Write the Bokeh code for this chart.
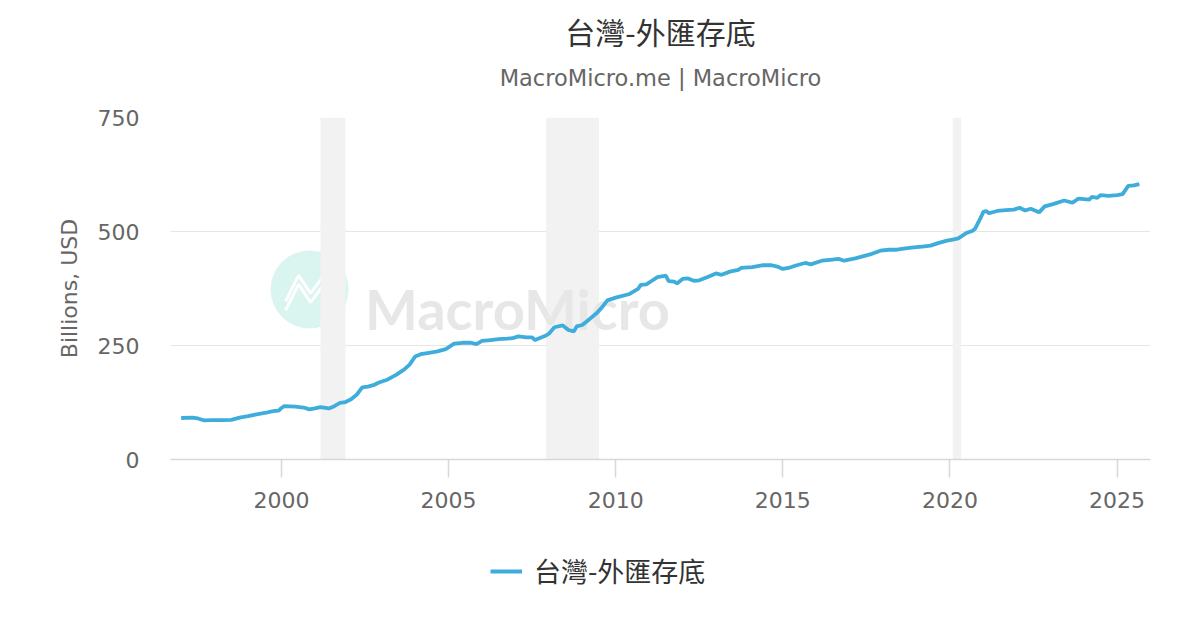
from bokeh.plotting import figure
from bokeh.models import (FixedTicker, BoxAnnotation, Legend, LegendItem,
                          Range1d, ColumnDataSource, Label)
from bokeh.layouts import column
from bokeh.core.properties import value
from bokeh.embed import file_html
from bokeh.resources import INLINE

# ---- data ----
dates = [
    "1997-01", "1997-05", "1997-07", "1997-09", "1997-12", "1998-04", "1998-07", "1998-10",
    "1999-01", "1999-04", "1999-07", "1999-10", "1999-12", "2000-01", "2000-02", "2000-06",
    "2000-09", "2000-11", "2001-01", "2001-03", "2001-06", "2001-08", "2001-10", "2001-12",
    "2002-02", "2002-04", "2002-06", "2002-08", "2002-10", "2002-12", "2003-03", "2003-06",
    "2003-09", "2003-11", "2004-01", "2004-03", "2004-06", "2004-09", "2004-12", "2005-03",
    "2005-06", "2005-09", "2005-11", "2006-01", "2006-04", "2006-07", "2006-10", "2006-12",
    "2007-02", "2007-05", "2007-07", "2007-08", "2007-10", "2007-12", "2008-01", "2008-03",
    "2008-06", "2008-08", "2008-10", "2008-11", "2009-01", "2009-03", "2009-06", "2009-08",
    "2009-10", "2010-01", "2010-06", "2010-09", "2010-10", "2010-12", "2011-02", "2011-04",
    "2011-07", "2011-08", "2011-10", "2011-11", "2012-01", "2012-03", "2012-05", "2012-07",
    "2012-10", "2013-01", "2013-03", "2013-06", "2013-09", "2013-10", "2014-02", "2014-06",
    "2014-09", "2014-11", "2015-01", "2015-03", "2015-06", "2015-09", "2015-11", "2016-03",
    "2016-06", "2016-09", "2016-11", "2017-03", "2017-06", "2017-09", "2017-12", "2018-03",
    "2018-06", "2018-09", "2018-12", "2019-03", "2019-06", "2019-09", "2019-12", "2020-02",
    "2020-04", "2020-07", "2020-09", "2020-10", "2020-12", "2021-01", "2021-02", "2021-03",
    "2021-06", "2021-09", "2021-12", "2022-02", "2022-04", "2022-06", "2022-09", "2022-11",
    "2023-02", "2023-06", "2023-09", "2023-11", "2024-03", "2024-04", "2024-06", "2024-07",
    "2024-10", "2025-01", "2025-03", "2025-05", "2025-07", "2025-09",
]
reserves = [
    91, 92, 90, 86, 86.5, 86.5, 87, 92,
    95, 99, 102, 106, 107, 113, 117, 116,
    114, 110, 112, 115, 112, 117, 124, 126,
    132, 142, 158, 160, 163, 169, 175, 185,
    197, 208, 226, 231, 234, 237, 242, 254,
    256, 256, 253, 260, 262, 264, 265, 266,
    270, 268, 268, 262, 267, 272, 276, 290,
    294, 284, 281, 292, 295, 305, 320, 333,
    349, 355, 363, 374, 383, 384, 392, 400,
    403, 391, 390, 386, 396, 397, 392, 393,
    400, 408, 405, 412, 416, 420, 422, 426,
    426, 423, 418, 420, 426, 431, 428, 436,
    438, 440, 436, 441, 446, 451, 458, 460,
    460, 463, 465, 467, 469, 475, 480, 482,
    485, 497, 501, 506, 530, 543, 545, 540,
    545, 547, 548, 552, 546, 550, 542, 555,
    560, 568, 563, 572, 570, 576, 574, 580,
    578, 580, 582, 600, 601, 604,
]
# shaded periods (first month, last month)
recessions = [("2001-03", "2001-11"), ("2007-12", "2009-06"), ("2020-02", "2020-04")]
y_ticks = [0, 250, 500, 750]
x_ticks = [2000, 2005, 2010, 2015, 2020, 2025]

series_name = "台灣-外匯存底"
title_text = "台灣-外匯存底"
subtitle_text = "MacroMicro.me | MacroMicro"
y_label = "Billions, USD"


def to_year(s):
    y, m = s.split("-")
    return int(y) + (int(m) - 1) / 12.0


xs = [to_year(d) for d in dates]
src = ColumnDataSource(dict(x=xs, y=reserves))

CJK = "Noto Sans CJK TC"
LAT = "DejaVu Sans"
LINE = "#3eaddc"
LW = 3.8

# ---- title strip (pixel coordinates, y from top) ----
top = figure(width=1200, height=102, output_backend="svg", toolbar_location=None,
             x_range=Range1d(0, 1200), y_range=Range1d(102, 0),
             min_border=0, outline_line_color=None)
top.axis.visible = False
top.grid.visible = False
top.border_fill_color = "white"
top.add_layout(Label(x=600, y=30, text=title_text, text_font=CJK,
                     text_font_size="30px", text_color="#333333",
                     text_align="center", text_baseline="middle"))
top.add_layout(Label(x=600, y=77, text=subtitle_text, text_font=LAT,
                     text_font_size="22.5px", text_color="#666666",
                     text_align="center", text_baseline="middle"))

# ---- main chart ----
p = figure(frame_width=980, frame_height=342, output_backend="svg", toolbar_location=None,
           x_range=Range1d(1996.68, 2026.0), y_range=Range1d(0, 750),
           min_border_left=170, min_border_right=50, min_border_top=15,
           min_border_bottom=61, outline_line_color=None)
p.background_fill_color = "white"
p.border_fill_color = "white"

# recession bands
for a, b in recessions:
    p.add_layout(BoxAnnotation(left=to_year(a), right=to_year(b) + 1 / 12.0,
                               fill_color="#f2f2f2", fill_alpha=1.0,
                               line_color=None, level="underlay"))

# watermark (decoration)
wx, wy = 2000.84, 373
sx = 1 / 33.44
sy = 1 / 0.456
p.scatter([wx], [wy], size=78, marker="circle", fill_color="#d6f3ee",
          line_color=None, fill_alpha=0.9, level="underlay")
for off in (0, 9):
    icon_x = [wx + d * sx for d in (-24, -11, 1, 13, 25)]
    icon_y = [wy + (d - off) * sy for d in (-12, 14, -4, 12, -12)]
    p.line(icon_x, icon_y, line_color="white", line_width=3, level="underlay")
p.scatter([wx + 18 * sx], [wy + 15 * sy], size=8, marker="circle",
          fill_color=None, line_color="white", line_width=2, level="underlay")
p.add_layout(Label(x=2007.06, y=331, text="MacroMicro", text_font="Lato",
                   text_font_size="56px", text_font_style="bold",
                   text_color="#e7e7e7", text_align="center",
                   text_baseline="alphabetic", level="underlay"))

r = p.line("x", "y", source=src, line_color=LINE, line_width=LW)

# axes
p.xaxis.ticker = FixedTicker(ticks=x_ticks)
p.yaxis.ticker = FixedTicker(ticks=y_ticks)
p.xgrid.grid_line_color = None
p.ygrid.grid_line_color = "#e6e6e6"
p.ygrid.grid_line_width = 1

p.xaxis.axis_line_color = "#d8d8d8"
p.xaxis.axis_line_width = 1.5
p.xaxis.major_tick_line_color = "#d8d8d8"
p.xaxis.major_tick_line_width = 1.5
p.xaxis.major_tick_out = 18
p.xaxis.major_tick_in = 0
p.xaxis.minor_tick_line_color = None
p.xaxis.major_label_standoff = 14
p.xaxis.major_label_text_font = LAT
p.xaxis.major_label_text_font_size = "22px"
p.xaxis.major_label_text_color = "#666666"

p.yaxis.axis_line_color = None
p.yaxis.major_tick_line_color = None
p.yaxis.minor_tick_line_color = None
p.yaxis.major_label_standoff = 25
p.yaxis.major_label_text_font = LAT
p.yaxis.major_label_text_font_size = "22px"
p.yaxis.major_label_text_color = "#666666"
p.yaxis.axis_label = y_label
p.yaxis.axis_label_text_font = LAT
p.yaxis.axis_label_text_font_size = "22px"
p.yaxis.axis_label_text_font_style = "normal"
p.yaxis.axis_label_text_color = "#666666"
p.yaxis.axis_label_standoff = 13

# ---- legend strip under the chart ----
leg = figure(width=1200, height=104, output_backend="svg", toolbar_location=None,
             x_range=Range1d(0, 1), y_range=Range1d(0, 1),
             min_border=0, outline_line_color=None)
leg.axis.visible = False
leg.grid.visible = False
leg.background_fill_color = "white"
leg.border_fill_color = "white"
lr = leg.line("x", "y", source=src, line_color=LINE, line_width=LW)
legend = Legend(items=[LegendItem(label=series_name, renderers=[lr])],
                orientation="horizontal", location=(320, 34),
                label_text_font=CJK, label_text_font_size="27px",
                label_text_color="#333333", glyph_width=32, glyph_height=20,
                border_line_color=None, background_fill_alpha=0,
                margin=0, padding=2, label_standoff=12)
leg.add_layout(legend, "center")

layout = column(top, p, leg, spacing=0)
open("out.html", "w").write(file_html(layout, INLINE))
